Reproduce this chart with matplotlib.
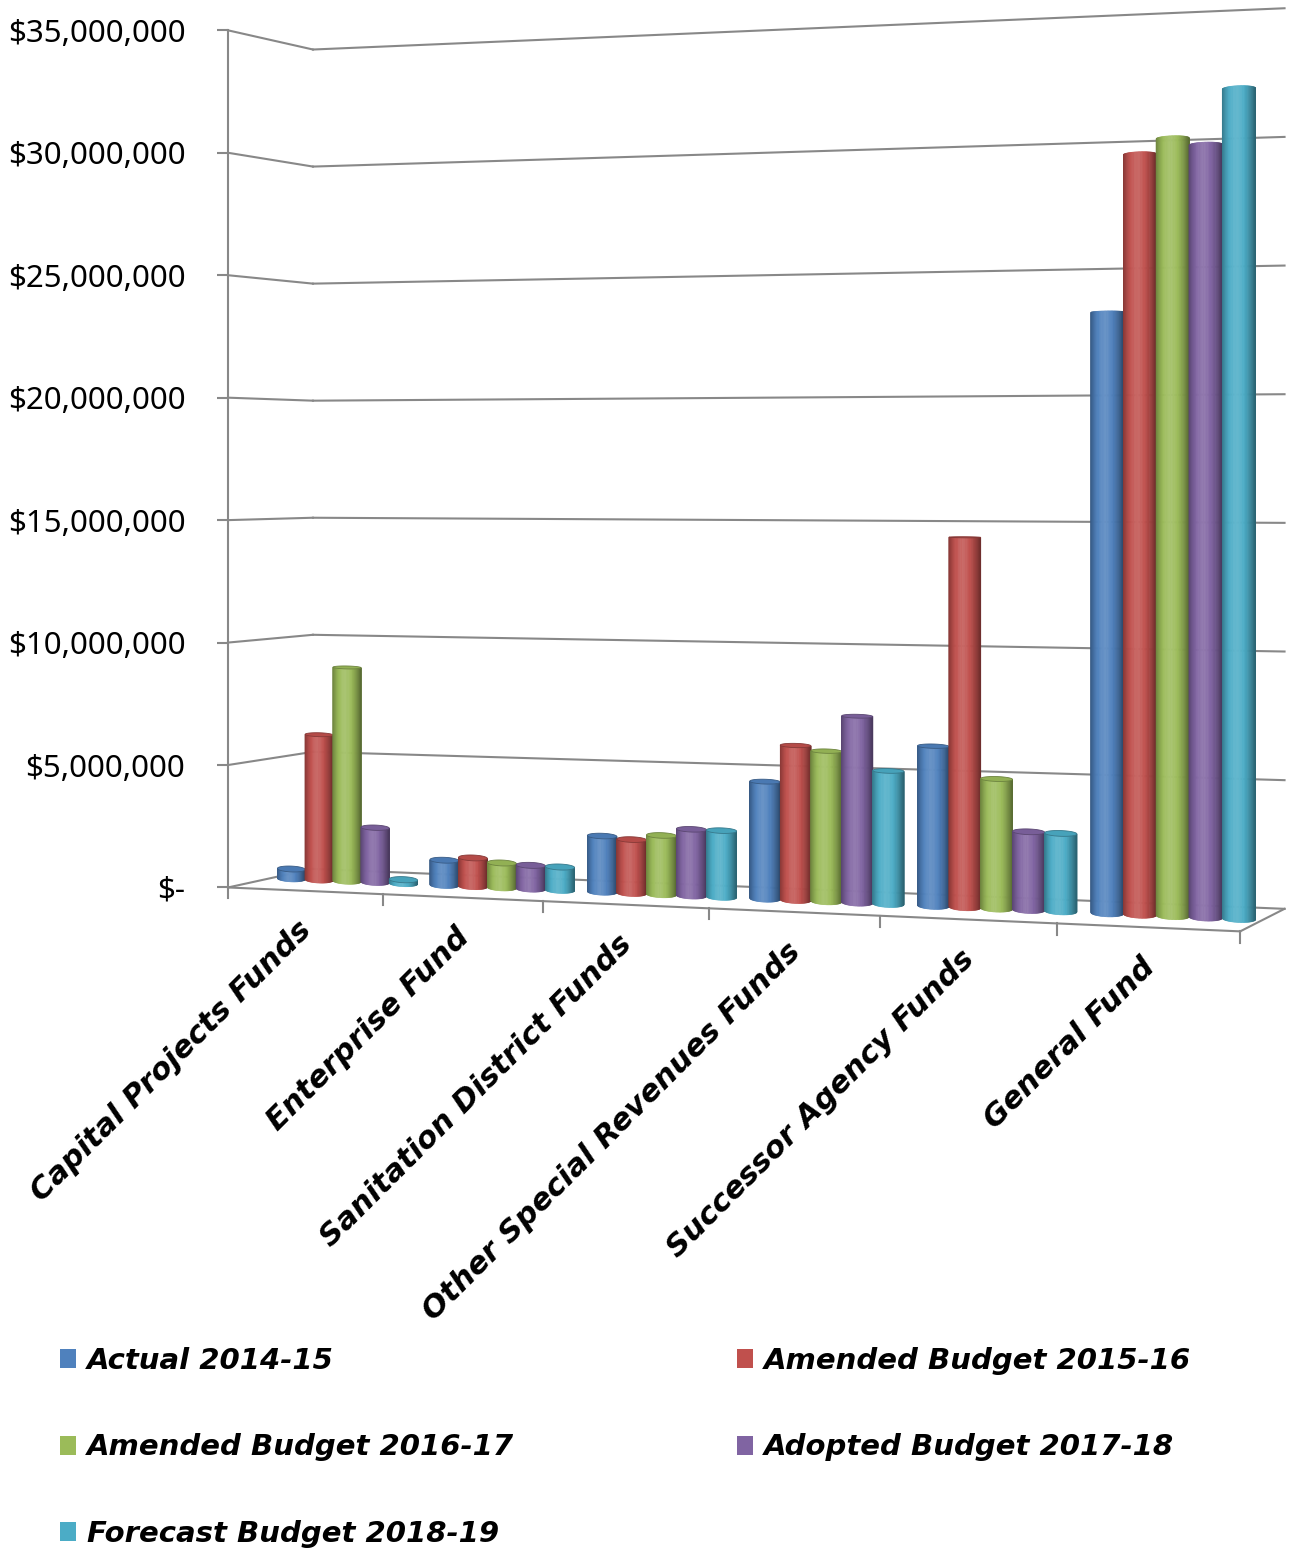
import numpy as np
import matplotlib
matplotlib.use("Agg")
import matplotlib.pyplot as plt
from matplotlib.transforms import Transform, ScaledTranslation
from matplotlib.patches import Polygon, Patch
from matplotlib.ticker import FuncFormatter, FixedLocator
from matplotlib.font_manager import FontProperties
from matplotlib.colors import to_rgb

# ---------------- data ----------------
categories = ["Capital Projects Funds", "Enterprise Fund", "Sanitation District Funds",
              "Other Special Revenues Funds", "Successor Agency Funds", "General Fund"]
series_names = ["Actual 2014-15", "Amended Budget 2015-16", "Amended Budget 2016-17",
                "Adopted Budget 2017-18", "Forecast Budget 2018-19"]
actual_2014_15 = [410_000, 1_030_000, 2_260_000, 4_660_000, 6_250_000, 23_130_000]
amended_2015_16 = [6_040_000, 1_170_000, 2_160_000, 6_130_000, 14_430_000, 29_170_000]
amended_2016_17 = [8_860_000, 1_010_000, 2_370_000, 5_940_000, 5_040_000, 29_740_000]
adopted_2017_18 = [2_260_000, 960_000, 2_660_000, 7_350_000, 3_030_000, 29_460_000]
forecast_2018_19 = [160_000, 940_000, 2_650_000, 5_230_000, 3_010_000, 31_550_000]
value_ticks = [0, 5_000_000, 10_000_000, 15_000_000, 20_000_000, 25_000_000, 30_000_000, 35_000_000]

series = [actual_2014_15, amended_2015_16, amended_2016_17, adopted_2017_18, forecast_2018_19]
colors = ["#4F81BD", "#C0504D", "#9BBB59", "#8064A2", "#4BACC6"]
GRID = "#888888"

# ---------------- perspective scene (layout) ----------------
W, H = 1290, 1552
X0, AX, AZ = 228.0, 149.2, 99.4       # screen x of the front-left corner, per category, per depth
DX, DZ = -0.01572, 0.0461             # perspective depth factors
YH = 466.0                            # horizon (pixels from top)
S0 = 24.49e-6                         # pixels per dollar at the front-left edge
VE = 17.21e6                          # eye height in dollars
VMAX = value_ticks[-1]


class Persp(Transform):
    """Maps (two of X, V, Z) with the third fixed to canvas pixel coordinates."""
    input_dims = 2
    output_dims = 2
    is_separable = False
    has_inverse = False

    def __init__(self, fixed, value, zx=None):
        super().__init__()
        self.fixed, self.value, self.zx = fixed, value, zx

    def transform_non_affine(self, values):
        v = np.asarray(values, dtype=float)
        one = v.ndim == 1
        pts = v.reshape(-1, 2)
        a, b = pts[:, 0], pts[:, 1]
        c = np.full_like(a, self.value)
        if self.fixed == "z":
            X, V, Z = a, b, c
        elif self.fixed == "v":
            X, Z, V = a, b, c
        else:
            Z, V, X = a, b, c
        Zx = Z if self.zx is None else np.full_like(a, self.zx)
        dxx = 1 + DX * X + DZ * Zx
        sx = (X0 + AX * X + AZ * Zx) / dxx
        dyy = 1 + DX * X + DZ * Z
        sy = YH + S0 * (VE - V) / dyy
        out = np.column_stack([sx, sy])
        return out.reshape(2) if one else out


fig = plt.figure(figsize=(W / 100, H / 100), dpi=100)
ax = fig.add_axes([0, 0, 1, 1])
ax.set_xlim(0, W)
ax.set_ylim(H, 0)
ax.set_autoscale_on(False)
ax.axis("off")


def tr(fixed, value, zx=None):
    return Persp(fixed, value, zx) + ax.transData


ncat = len(categories)
# walls & floor
for v in value_ticks:
    ax.plot([0, 1], [v, v], transform=tr("x", 0), color=GRID, lw=1.5, zorder=1)
    ax.plot([0, ncat], [v, v], transform=tr("z", 1), color=GRID, lw=1.5, zorder=1)
ax.plot([0, ncat], [0, 0], transform=tr("z", 0), color=GRID, lw=1.5, zorder=1)
ax.plot([0, 1], [0, 0], transform=tr("x", ncat), color=GRID, lw=1.5, zorder=1)
for i in range(ncat + 1):
    ax.plot([i, i], [0, -0.42e6], transform=tr("z", 0), color=GRID, lw=1.5, zorder=1)

# ---------------- cylinders ----------------
BW = 0.184
HW = BW / 2
RZ = 0.16
N = 36
thetas = np.linspace(np.pi, 0, N + 1)


def shade(c, f):
    rgb = np.array(to_rgb(c))
    return tuple(rgb + f * (1 - rgb)) if f >= 0 else tuple(rgb * (1 + f))


def profile(u):
    if u < 0.45:
        d = (0.45 - u) / 0.45
        return 0.13 - 0.43 * d ** 1.8
    d = (u - 0.45) / 0.55
    return 0.13 - 0.55 * d ** 1.5


phi = np.linspace(0, 2 * np.pi, 73)
for s, vals in enumerate(series):
    vals = np.asarray(vals, dtype=float)
    xc = np.arange(ncat) + 0.5 + (s - 2) * BW
    for k in range(N):
        t0, t1 = thetas[k], thetas[k + 1]
        tm = (t0 + t1) / 2
        left = xc + HW * np.cos(t0)
        width = HW * (np.cos(t1) - np.cos(t0))
        zy = 0.5 - RZ * np.sin(tm)
        col = shade(colors[s], profile((1 + np.cos(tm)) / 2))
        ax.bar(left, vals, width=width, align="edge", color=col, edgecolor=col,
               linewidth=0.5, transform=tr("z", zy, zx=0.5), zorder=3 + 2 * s)
    for i, v in enumerate(vals):
        if v < VE:
            pts = np.column_stack([xc[i] + HW * np.cos(phi), 0.5 + RZ * np.sin(phi)])
            ax.add_patch(Polygon(pts, closed=True, transform=tr("v", v, zx=0.5),
                                 facecolor=shade(colors[s], -0.06),
                                 edgecolor=shade(colors[s], -0.3), linewidth=0.6,
                                 zorder=4 + 2 * s))

# ---------------- category labels ----------------
lab_font = FontProperties(family="DejaVu Sans", weight="bold", style="italic", size=22)
off = ScaledTranslation(2 / 100, -35 / 100, fig.dpi_scale_trans)
for i, name in enumerate(categories):
    ax.text(i + 0.5, 0, name, transform=tr("z", 0) + off, rotation=45,
            rotation_mode="anchor", ha="right", va="center", fontproperties=lab_font,
            color="black", zorder=20)

# ---------------- value axis ----------------
p_bot = Persp("z", 0).transform([0, 0])
p_top = Persp("z", 0).transform([0, VMAX])
vax = fig.add_axes([p_bot[0] / W, 1 - p_bot[1] / H, 0.001, (p_bot[1] - p_top[1]) / H])
vax.patch.set_visible(False)
vax.set_ylim(0, VMAX)
vax.set_xticks([])
for sp in ("top", "right", "bottom"):
    vax.spines[sp].set_visible(False)
vax.spines["left"].set_color(GRID)
vax.spines["left"].set_linewidth(1.5)
vax.yaxis.set_major_locator(FixedLocator(value_ticks))
vax.yaxis.set_major_formatter(FuncFormatter(lambda v, p: "$-" if v == 0 else f"${v:,.0f}"))
vax.tick_params(axis="y", length=7.9, width=1.5, color=GRID, pad=22.8, labelsize=22.5,
                labelcolor="black")
for t in vax.get_yticklabels():
    t.set_fontfamily("Noto Sans")

# ---------------- legend ----------------
handles = [Patch(facecolor=c, edgecolor="none") for c in colors]
leg_font = FontProperties(family="DejaVu Sans", weight="bold", style="italic", size=21)
common = dict(frameon=False, prop=leg_font, handlelength=0.55, handleheight=0.62,
              handletextpad=0.38, labelspacing=2.0, borderpad=0, borderaxespad=0,
              loc="upper left")
fig.legend([handles[i] for i in (0, 2, 4)], [series_names[i] for i in (0, 2, 4)],
           bbox_to_anchor=(60 / W, 1 - 1347 / H), **common)
fig.legend([handles[i] for i in (1, 3)], [series_names[i] for i in (1, 3)],
           bbox_to_anchor=(737 / W, 1 - 1347 / H), **common)

fig.savefig("out.png", dpi=100)
